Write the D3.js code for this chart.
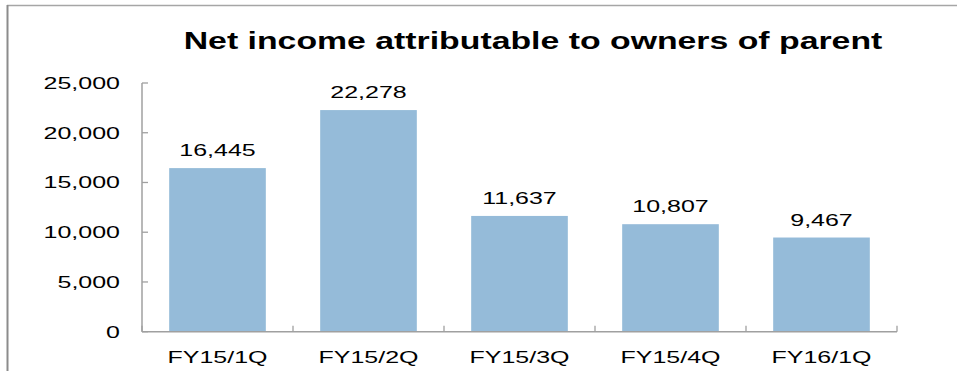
<!DOCTYPE html>
<html>
<head>
<meta charset="utf-8">
<script src="https://cdn.jsdelivr.net/npm/d3@7"></script>
<style>
html, body { margin: 0; padding: 0; background: #fff; }
svg { display: block; }
text { font-family: "Liberation Sans", Arial, sans-serif; fill: #000; }
</style>
</head>
<body>
<svg id="chart" width="957" height="371"></svg>
<script>
const categories = ["FY15/1Q", "FY15/2Q", "FY15/3Q", "FY15/4Q", "FY16/1Q"];
const values = [16445, 22278, 11637, 10807, 9467];
const yTicks = [0, 5000, 10000, 15000, 20000, 25000];
const title = "Net income attributable to owners of parent";

const W = 957, H = 371;
const SX = 1.47; // horizontal stretch of the original image's text
const svg = d3.select("#chart");
const fmt = d3.format(",");

// frame (top and left edges visible)
svg.append("line").attr("x1", 7).attr("x2", W).attr("y1", 5.5).attr("y2", 5.5)
  .attr("stroke", "#a6a6a6").attr("stroke-width", 1.3);
svg.append("line").attr("x1", 7.5).attr("x2", 7.5).attr("y1", 5).attr("y2", H)
  .attr("stroke", "#8c8c8c").attr("stroke-width", 2);

const x = d3.scaleBand().domain(categories).range([142, 897])
  .paddingInner(0.36).paddingOuter(0.18);
const y = d3.scaleLinear().domain([0, 25000]).range([331.7, 83]);

function stext(g, tx, ty, str, size, anchor, weight) {
  return g.append("text")
    .attr("transform", `translate(${tx},${ty}) scale(${SX},1)`)
    .attr("text-anchor", anchor)
    .attr("font-size", size)
    .attr("font-weight", weight || "normal")
    .text(str);
}

// title
stext(svg, 533, 48.5, title, 23, "middle", "bold");

// bars
svg.append("g").selectAll("rect").data(values).join("rect")
  .attr("x", (d, i) => x(categories[i]))
  .attr("width", x.bandwidth())
  .attr("y", d => y(d))
  .attr("height", d => y(0) - y(d))
  .attr("fill", "#95bbd9");

// data labels
const lg = svg.append("g");
values.forEach((d, i) => {
  stext(lg, x(categories[i]) + x.bandwidth() / 2, y(d) - 12, fmt(d), 17, "middle");
});

// y axis
const axisColor = "#a0a0a0";
const yAxis = svg.append("g");
yAxis.append("line").attr("x1", 142).attr("x2", 142)
  .attr("y1", y(25000)).attr("y2", y(0))
  .attr("stroke", axisColor).attr("stroke-width", 1.5);
yTicks.forEach(t => {
  yAxis.append("line").attr("x1", 142).attr("x2", 148)
    .attr("y1", y(t)).attr("y2", y(t))
    .attr("stroke", axisColor).attr("stroke-width", 1.3);
  stext(yAxis, 120, y(t) + 6, fmt(t), 17, "end");
});

// x axis
const xAxis = svg.append("g");
xAxis.append("line").attr("x1", 142).attr("x2", 897)
  .attr("y1", y(0)).attr("y2", y(0))
  .attr("stroke", axisColor).attr("stroke-width", 1.5);
const bounds = categories.map(c => x(c) - x.step() * x.paddingInner() / 2);
bounds[0] = 142;
bounds.push(897);
bounds.forEach(b => {
  xAxis.append("line").attr("x1", b).attr("x2", b)
    .attr("y1", y(0)).attr("y2", y(0) - 6)
    .attr("stroke", axisColor).attr("stroke-width", 1.3);
});
categories.forEach(c => {
  stext(xAxis, x(c) + x.bandwidth() / 2, 363, c, 17, "middle");
});
</script>
</body>
</html>
